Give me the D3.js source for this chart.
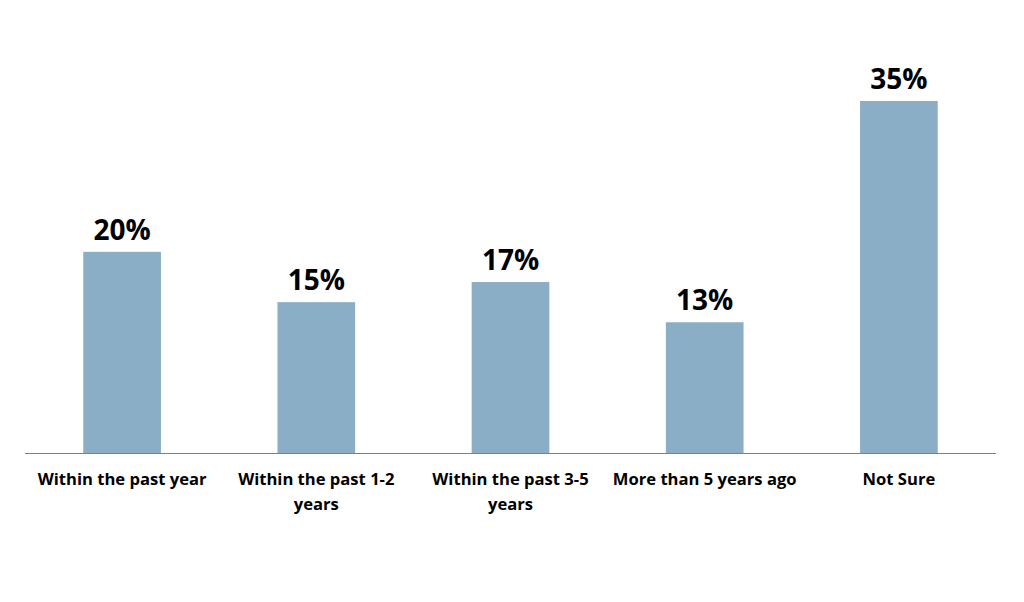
<!DOCTYPE html>
<html><head><meta charset="utf-8">
<script src="https://cdn.jsdelivr.net/npm/d3@7"></script>
<style>body{margin:0;background:#fff}</style>
</head><body>
<svg id="c" width="1024" height="602"></svg>
<script>
const categories = ["Within the past year","Within the past 1-2 years","Within the past 3-5 years","More than 5 years ago","Not Sure"];
const values = [20, 15, 17, 13, 35];
const labelLines = [["Within the past year"],["Within the past 1-2","years"],["Within the past 3-5","years"],["More than 5 years ago"],["Not Sure"]];

const svg = d3.select("#c");
const x = d3.scaleBand().domain(categories).range([25, 996]).paddingInner(0.6).paddingOuter(0.3);
const y = d3.scaleLinear().domain([0, 35]).range([453, 101]);

svg.selectAll("rect.bar").data(values).join("rect")
  .attr("class","bar")
  .attr("x",(d,i)=>x(categories[i]))
  .attr("width",x.bandwidth())
  .attr("y",d=>y(d))
  .attr("height",d=>y(0)-y(d))
  .attr("fill","#8aaec5");

svg.append("line").attr("x1",25).attr("x2",996).attr("y1",y(0)+0.5).attr("y2",y(0)+0.5)
  .attr("stroke","#808080").attr("stroke-width",1.2);

svg.selectAll("text.val").data(values).join("text")
  .attr("class","val")
  .attr("x",(d,i)=>x(categories[i])+x.bandwidth()/2)
  .attr("y",d=>y(d)-12)
  .attr("text-anchor","middle")
  .attr("font-family","'Open Sans', sans-serif")
  .attr("font-weight","bold")
  .attr("font-size",28)
  .attr("fill","#000")
  .text(d=>d+"%");

const g = svg.selectAll("text.cat").data(labelLines).join("text")
  .attr("class","cat")
  .attr("x",(d,i)=>x(categories[i])+x.bandwidth()/2)
  .attr("y",485)
  .attr("text-anchor","middle")
  .attr("font-family","'Open Sans', sans-serif")
  .attr("font-weight","bold")
  .attr("font-size",16.6)
  .attr("fill","#000");
g.each(function(lines,i){
  const t=d3.select(this);
  lines.forEach((l,j)=>{
    t.append("tspan").attr("x",x(categories[i])+x.bandwidth()/2).attr("dy",j===0?0:25).text(l);
  });
});
</script>
</body></html>
